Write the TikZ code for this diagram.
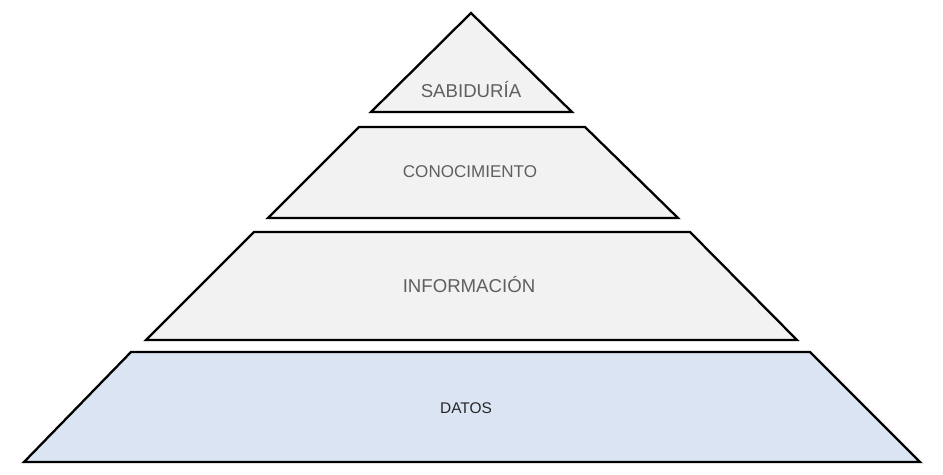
\documentclass[tikz,border=0pt]{standalone}
\usepackage{fontspec}
\setmainfont{Liberation Sans}
\definecolor{levelgray}{RGB}{242,242,242}
\definecolor{levelblue}{RGB}{219,228,243}
\definecolor{labelgray}{RGB}{95,95,95}
\tikzstyle{level} = [draw=black, line width=1.3pt, line join=miter, fill=levelgray]
\tikzstyle{levellabel} = [text=labelgray, font=\fontsize{10.6}{12}\selectfont]
\begin{document}
\begin{tikzpicture}[x=0.02cm,y=-0.02cm]
\useasboundingbox (0,0) rectangle (943,474);

% piramide, de arriba hacia abajo
\draw[level] (471,13)--(572,112)--(371,112)--cycle;
\draw[level] (359,127)--(585,127)--(678,218)--(268,218)--cycle;
\draw[level] (254,232)--(690,232)--(797,340)--(146,340)--cycle;
\draw[level,fill=levelblue] (131,352)--(810,352)--(920,462)--(24,462)--cycle;

\node[levellabel] (wisdom) at (471,90) {SABIDURÍA};
\node[levellabel,font=\fontsize{9.7}{11}\selectfont] (knowledge) at (470,172) {CONOCIMIENTO};
\node[levellabel] (info) at (469,285) {INFORMACIÓN};
\node[levellabel,text=black!85,font=\fontsize{8.8}{10}\selectfont] (data) at (466,408) {DATOS};
\end{tikzpicture}
\end{document}
